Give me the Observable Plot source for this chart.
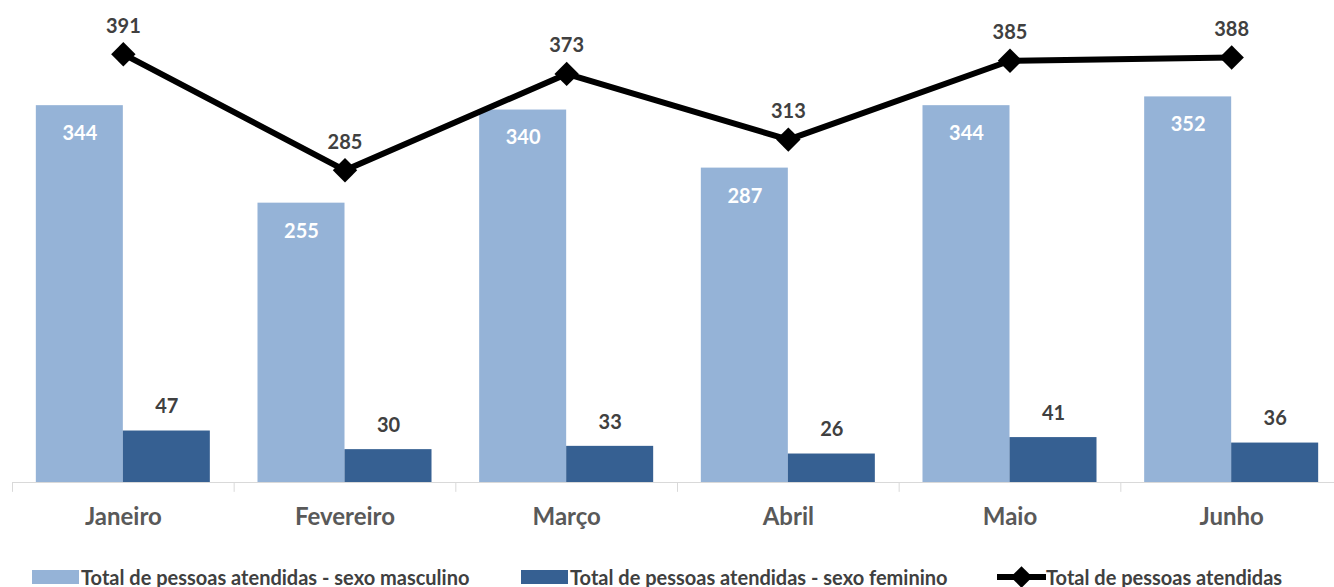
<!DOCTYPE html>
<html><head><meta charset="utf-8">
<script src="https://cdn.jsdelivr.net/npm/d3@7"></script>
<script src="https://cdn.jsdelivr.net/npm/@observablehq/plot@0.6"></script>
<style>
body{margin:0;background:#fff;font-family:Lato,"Open Sans",sans-serif;}
#legend{position:relative;width:1334px;height:42px;}
.item{position:absolute;top:20px;height:24px;display:flex;align-items:center;font-weight:bold;font-size:20px;color:#404040;white-space:nowrap;}
.sw{width:47px;height:14px;margin-right:2px;}
.item svg{display:block;}
</style></head><body>
<div id="chart"></div>
<div id="legend"></div>
<script>
const months = ["Janeiro","Fevereiro","Março","Abril","Maio","Junho"];
const male = [344,255,340,287,344,352];
const female = [47,30,33,26,41,36];
const total = [391,285,373,313,385,388];
const seriesNames = ["Total de pessoas atendidas - sexo masculino","Total de pessoas atendidas - sexo feminino","Total de pessoas atendidas"];
const colors = ["#95B3D7","#366092","#000000"];

const data = months.map((m,i)=>({month:m, male:male[i], female:female[i], total:total[i]}));
const step = 1330/6;
const half = 87;

const chart = Plot.plot({
  width:1334, height:545,
  marginLeft:12, marginRight:0, marginTop:0, marginBottom:63,
  x:{domain:months, range:[12,1342], paddingInner:0.215, paddingOuter:0.1075, round:false, label:null},
  y:{domain:[0,440], axis:null},
  marks:[
    Plot.barY(data,{x:"month", y:"male", fill:colors[0], insetRight:half}),
    Plot.barY(data,{x:"month", y:"female", fill:colors[1], insetLeft:half}),
    Plot.ruleY([0],{stroke:"#d9d9d9", strokeWidth:1}),
    Plot.ruleX(months,{x:d=>d, dx:-step/2, y1:0, y2:-9, stroke:"#d9d9d9"}),
    Plot.text(data,{x:"month", y:"male", text:"male", dx:-half/2, dy:28, fill:"#fff", fontWeight:"bold", fontSize:20}),
    Plot.text(data,{x:"month", y:"female", text:"female", dx:half/2, dy:-24, fill:"#404040", fontWeight:"bold", fontSize:20}),
    Plot.line(data,{x:"month", y:"total", stroke:"#000", strokeWidth:6}),
    Plot.dot(data,{x:"month", y:"total", symbol:"diamond2", r:11, fill:"#000", stroke:"none"}),
    Plot.text(data,{x:"month", y:"total", text:"total", dy:-28, fill:"#404040", fontWeight:"bold", fontSize:20}),
    Plot.axisX({tickSize:0, tickPadding:25, fontSize:24, fontWeight:"bold", fill:"#595959", label:null})
  ],
  style:{fontFamily:"Lato, 'Open Sans', sans-serif", background:"#fff"}
});
document.getElementById("chart").append(chart);

const lefts = [32,521,997];
const legend = document.getElementById("legend");
seriesNames.forEach((n,i)=>{
  const it = document.createElement("div");
  it.className="item"; it.style.left=lefts[i]+"px";
  if(i<2){
    const sw=document.createElement("div"); sw.className="sw"; sw.style.background=colors[i]; it.append(sw);
  } else {
    const s = d3.create("svg").attr("width",49).attr("height",24);
    s.append("line").attr("x1",0).attr("x2",49).attr("y1",12).attr("y2",12).attr("stroke","#000").attr("stroke-width",6);
    s.append("path").attr("d",d3.symbol(d3.symbolDiamond2, 300)()).attr("transform","translate(24.5,12)").attr("fill","#000");
    it.append(s.node());
  }
  const t=document.createElement("span"); t.textContent=n; it.append(t);
  legend.append(it);
});
</script>
</body></html>
